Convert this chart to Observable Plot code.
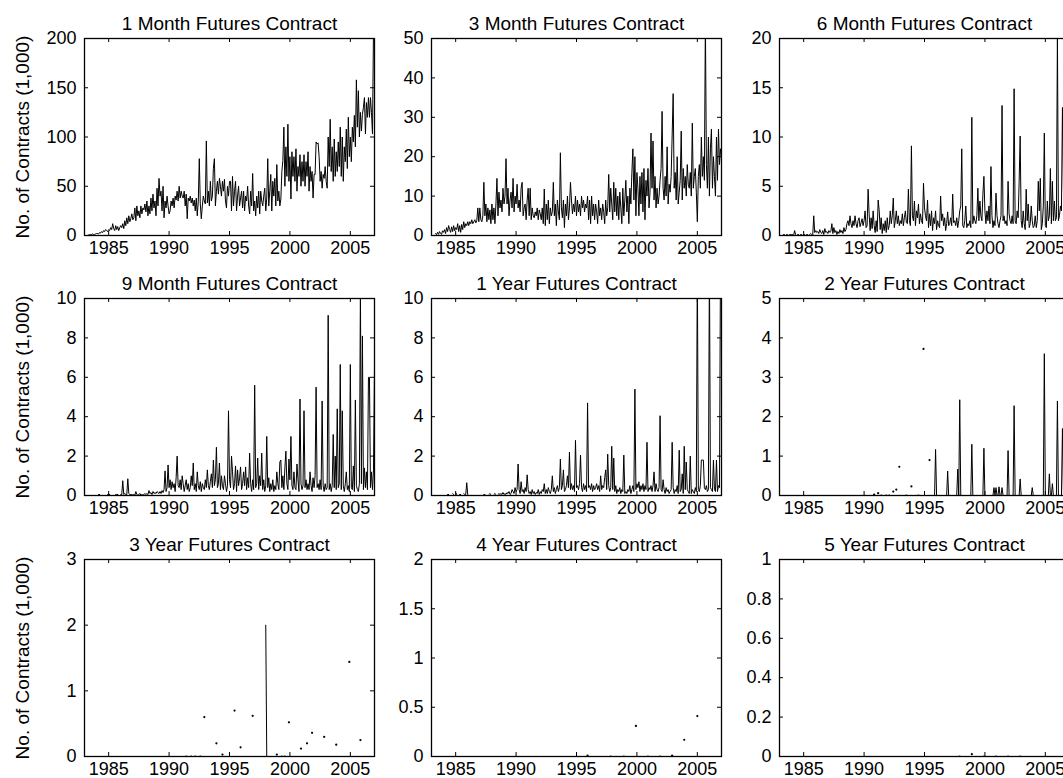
<!DOCTYPE html>
<html><head><meta charset="utf-8">
<script src="https://cdn.jsdelivr.net/npm/d3@7"></script>
<script src="https://cdn.jsdelivr.net/npm/@observablehq/plot@0.6"></script>
<style>
html,body{margin:0;padding:0;background:#fff;overflow:hidden;}
#wrap{position:relative;width:1063px;height:778px;overflow:hidden;background:#fff;}
#wrap svg{position:absolute;}
</style></head><body><div id="wrap"></div>
<script>
const n = null;
const xTicks = [1985, 1990, 1995, 2000, 2005];
const xDomain = [1983, 2007];
const yLabel = "No. of Contracts (1,000)";

const titles = ["1 Month Futures Contract","3 Month Futures Contract","6 Month Futures Contract",
  "9 Month Futures Contract","1 Year Futures Contract","2 Year Futures Contract",
  "3 Year Futures Contract","4 Year Futures Contract","5 Year Futures Contract"];
const yTicksList = [[0,50,100,150,200],[0,10,20,30,40,50],[0,5,10,15,20],
  [0,2,4,6,8,10],[0,2,4,6,8,10],[0,1,2,3,4,5],
  [0,1,2,3],[0,0.5,1,1.5,2],[0,0.2,0.4,0.6,0.8,1]];

// monthly values, Jan 1983 .. Dec 2006
const m1 = [
n,n,n,0.5,0.8,1,1,1.5,1,1.2,1.5,2,
2,1.5,3,2.5,4,3,5,4,6,5,4,6,
5,8,6,12,7,5,10,6,9,5,8,10,
8,12,7,15,10,18,12,20,14,17,22,16,
18,28,15,30,20,25,18,30,22,28,26,32,
24,35,20,30,22,38,25,42,28,35,20,48,
30,58,40,45,25,50,18,35,28,40,30,22,
25,35,30,38,28,40,36,45,35,50,38,45,
40,38,45,30,42,17,38,35,40,33,38,30,
36,25,38,20,35,78,32,17,30,40,35,32,
96,33,45,30,55,35,40,68,78,30,45,55,
42,58,50,40,55,45,57,35,28,50,40,55,
55,25,60,30,45,55,25,40,50,30,38,45,
28,45,25,40,35,50,30,22,45,30,63,25,
35,20,40,28,45,22,45,35,30,40,48,25,
38,78,30,45,62,25,55,40,58,30,72,35,
45,30,37,65,76,110,50,90,60,113,55,80,
37,85,60,80,55,88,45,70,60,82,50,75,
55,82,50,75,60,85,45,70,55,65,38,62,
62,95,93,94,80,55,65,48,62,58,70,55,
48,100,70,118,65,90,55,98,60,85,65,95,
70,110,60,100,55,90,75,108,68,120,80,100,
75,110,95,122,90,158,110,147,100,125,106,123,
130,140,103,135,120,140,120,140,125,103,210,220];

const m3 = [
n,n,n,0.5,0.2,0.8,0.3,1,0.5,0.3,1.2,0.8,
1.5,0.5,2,1,2.5,1.5,0.8,2.2,1,2.5,1.2,2,
1.5,3,1,2.5,0.8,2.8,1.5,3.5,2,3,2.5,3.5,
2.5,3.5,3,4,3,3.5,4,3.2,3.8,7,3.5,7,
4,3.5,5,13.5,5,8,3.5,7,4,6.5,3,8,
4,7,3,8,14.5,5,11,7,9,6,12,8,
10,19.5,8,12,5,9,11,7,14.5,6,10,8,
13,7,9,6,12,13.5,5,7,8,4,9,12,
5,12,4,7,5,4.5,6,5,7,4,6.5,5.5,
4,7,3,11.8,2.5,8,4,9,3,7,5,6,
13.5,5,8,2.5,9,6,4,21,7,4.5,9,2,
8,5,10,4,7,13.5,9,5.5,8,6,10,5,
9,6,8,5,10,7,9,6,8,7,10,4,
9,3,10,5,8,4,8,6,3,9,5,7,
4,8,6,3,9,5,7,15.5,6,12,8,4,
13.5,6,12,5,10,4,11,7,3,12,5,9,
14,6,10,3,12,8,16,22,9,20,5,16,
12,5,15,8,16,6,17,4,14,10,17,7,
11,26,12,24,9,15,7,12,8,10,14,17,
31.5,12,9,15,10,22.5,8,13,11,15,25.5,36,
12,16,9,20,8,11,14,26.5,9,17,12,15,
10,18,13,12,16,10,28.5,12,15,17,11,3.5,
15,18,12,25,15,20,14,55,18,12,25,10,
22,27,12,20,15,10,25,14,27,18,22,20];

const m6 = [
n,n,n,0.1,0.1,0,0.1,0.1,0,0.1,0.1,0.1,
0.1,0,0.5,0.1,0,0.1,0.1,0,0.1,0.1,0,0.1,
0.1,0,0.1,0.1,0,0.1,0.2,0.1,0,2,0.3,0.5,
0.3,0.4,0.2,0.6,0.3,0.2,0.5,0.1,0.7,0.3,0.4,0.2,
0.5,0.3,0.4,1.2,0.2,0.8,0.3,0.5,0.1,0.4,0.2,0.6,
0.3,0.5,0.2,0.8,0.4,0.6,1.2,1.5,1,2,1.2,0.8,
1.5,1,2,1.2,0.8,1.5,1.8,0.9,1.3,1.7,1,1.5,
2.5,0.8,1,4.7,2.2,0.5,1.8,0.7,2.5,1,0.3,1.5,
0.4,3.6,2.5,0.6,1.8,0.2,1.2,0.5,1.5,0.3,1.8,0.6,
1,2.5,1.2,2,3.8,0.8,1.5,2.5,1.2,2,1,1.5,
1.2,2.2,1,1.8,2.5,1.3,1.2,4.7,1.5,1,9.1,2,
1.5,3.5,1,2.5,1.8,3.2,1.2,2.2,1.5,1.2,5.3,2.8,
2,1.5,3.6,0.8,2.2,1,2.5,0.5,1.8,1.2,2.5,0.6,
1.5,1,0.8,4,1.5,2.2,1,1.8,0.5,1.2,2.4,1,
1.2,1.8,1,4.2,1.3,1.5,1,1.8,0.8,1.5,2.5,3,
8.8,1,0.8,1.5,3,0.8,1.2,1,1.5,0.8,12,1.2,
2,1.5,1.2,2,4.8,1.5,3.5,2,1.5,4.2,6,2.5,
1.2,2.5,1.5,3,1.2,7,2,0.8,1.5,1,4.3,2,
1.2,0.8,1.5,2,13.2,1.5,2,1.2,1.5,1,5.5,2.2,
1.5,1.2,2,1.2,14.9,1.5,1.2,2.5,1.8,5.5,10.1,1.5,
0.8,2.5,1.2,0.6,4.7,1.5,3.2,0.8,1.2,3,1.5,0.8,
1,2,0.8,1.5,5.5,2.5,5.8,0.6,1.2,3,10.4,1,
0.8,3.5,1.5,2,6.8,1.2,5.5,1.5,3.5,1.5,1.8,20.5,
1.5,2,3,2.5,13,4.5,1.5,5,2.5,3,2,4];

const m9 = [
n,n,n,n,n,n,n,n,n,n,n,n,
n,0.05,0.05,n,n,n,n,n,n,n,0.05,0.05,
0.05,n,n,n,n,n,0.05,0.05,0.05,n,n,0.05,
0.05,0.75,0.05,0.1,0.05,0.05,0.85,0.1,0.05,0.05,0.05,0.02,
0.05,0.02,0.2,0.05,0.02,0.05,0.1,0.02,0.05,0.02,0.05,0.1,
0.05,0.1,0.05,0.25,0.1,0.15,0.05,0.2,0.1,0.15,0.1,0.2,
0.15,0.1,0.2,0.1,0.25,0.15,0.3,1.25,0.2,0.4,1.55,0.4,
0.8,0.3,0.7,0.4,0.6,0.2,0.9,2.0,0.5,0.4,0.8,0.3,
1.0,0.6,0.2,0.5,0.8,0.3,0.6,0.2,0.4,1.0,0.5,1.65,
0.3,0.6,0.2,1.2,0.5,0.3,0.7,0.2,0.6,0.4,0.3,0.8,
0.4,1.3,0.5,0.3,0.7,1.1,0.4,1.8,0.5,0.8,2.45,0.4,
0.6,1.65,0.3,1.0,0.5,0.3,1.0,0.6,0.2,0.5,4.3,0.8,
0.4,2.0,1.2,0.3,0.6,1.5,0.2,1.3,0.5,0.9,1.45,0.3,
0.6,1.2,0.5,1.45,0.3,0.9,0.4,2.15,0.6,0.2,0.8,0.3,
5.6,0.4,0.6,1.9,0.3,1.0,0.5,2.15,0.3,0.8,0.2,0.5,
3.0,0.4,0.9,0.2,0.6,0.3,0.8,0.2,0.5,0.3,1.2,0.6,
0.3,1.7,1.8,0.4,1.0,0.3,1.4,2.25,0.6,0.3,1.85,0.8,
3.0,0.5,0.3,1.2,0.4,0.3,1.6,0.8,0.2,4.9,0.6,0.3,
0.5,4.3,0.4,0.8,0.3,0.6,0.3,1.2,0.5,0.2,0.9,0.4,
1.0,5.5,0.4,0.6,0.3,0.8,0.3,4.8,0.5,0.2,0.6,0.3,
0.4,9.15,0.3,0.6,0.2,0.5,3.1,0.4,2.0,0.3,4.4,0.4,
0.6,6.65,0.3,4.3,0.5,0.2,0.6,1.2,0.3,0.5,0.2,6.65,
0.4,0.3,1.5,0.2,4.85,0.5,0.3,0.2,0.6,10.5,0.6,8.1,
0.3,1.4,0.4,1.2,0.3,6.0,6.0,0.4,1.2,0.3,1.3,6.5];

const y1 = [
n,n,n,n,n,n,n,n,n,n,n,n,
n,n,n,0.05,0.05,n,n,n,0.1,0.05,n,0.15,
0.05,n,n,0.05,0.05,n,n,0.1,0.05,0.05,0.65,0.05,
n,n,n,n,n,n,n,n,n,n,n,n,
n,n,n,0.05,0.05,n,n,n,0.05,0.1,0.05,n,
n,0.05,0.1,0.05,n,0.05,0.1,0.05,0.1,0.05,0.15,0.05,
0.1,0.05,0.15,0.1,0.2,0.05,0.1,0.3,0.2,0.1,0.4,0.2,
0.3,1.6,0.3,0.1,0.7,0.2,0.3,0.1,0.4,0.2,1.05,0.3,
0.1,0.2,0.05,0.3,0.1,0.2,0.05,0.15,0.1,0.3,0.05,0.2,
0.1,0.3,0.2,0.6,0.1,0.3,0.1,0.4,0.2,0.1,0.3,1.0,
0.2,0.4,0.1,0.3,0.5,0.2,0.4,1.85,0.3,0.5,1.3,0.2,
0.3,0.5,1.0,0.4,2.2,0.3,0.6,0.3,0.5,0.2,2.8,0.4,
0.5,0.3,0.6,2.05,0.4,0.2,0.6,0.3,0.5,0.2,4.7,0.4,
0.5,0.3,0.6,0.2,0.5,0.3,0.4,0.6,0.3,0.5,0.2,1.0,
0.3,0.5,0.4,0.9,1.3,0.3,2.1,0.5,0.2,0.4,2.5,0.3,
1.9,0.2,0.5,0.1,0.3,0.2,0.4,0.1,0.3,0.2,2.05,0.1,
0.2,0.1,0.3,0.2,0.5,0.1,0.3,0.5,0.2,5.4,0.3,0.6,
0.4,0.7,0.2,0.5,0.3,0.6,0.2,0.5,0.3,2.7,0.2,0.4,
0.3,0.5,0.2,0.5,1.2,0.2,0.6,0.3,0.2,0.4,4.05,0.3,
0.2,0.8,0.3,0.1,0.4,0.2,0.3,0.1,0.2,0.3,2.7,0.4,
0.1,0.3,0.2,0.5,0.1,2.3,0.2,0.3,1.1,0.1,2.5,0.3,
1.7,0.3,0.2,0.1,2.0,0.1,0.3,0.2,0.1,0.4,0.2,12,
0.3,0.2,0.5,1.8,1.8,1.8,0.4,0.3,0.5,0.2,0.3,12,
0.4,0.3,0.2,1.8,0.3,0.2,1.8,0.2,0.5,0.4,12,12];

// 2 year: monthly values Jan 1990 .. Dec 2006
const y2 = [
n,n,n,n,n,n,n,n,n,0.02,n,n,
n,0.06,n,n,0,n,n,n,n,0,n,n,
0,n,n,n,0.1,n,n,0.15,n,n,0.73,n,
n,n,n,n,n,0,n,n,n,n,0.23,n,
n,n,n,n,n,0,n,n,n,n,3.72,n,
n,n,n,n,0.9,n,n,n,0,0,1.17,0,
0,0,0,0,0,0,0,0,0,0,0.62,0,
0,0,0,0,0,0,0,0,0.67,0,2.43,0,
0,0,0,0,0,0,0,0,0,0,1.3,0,
0,0,0,0,0,0,0,0,0,0,1.2,0,
0,0,0,0,0,0,0,0,0.2,0,0.2,0,
0,0.22,0,0,0.2,0,0,0,0,0,1.14,0,
0,0,0,0,2.28,0,0,0,0,0,0.42,0,
0,0,0,0,0,0,0,0,0,0,0.2,0,
0,0,0,0,0,0,0,0,0,0,3.6,0,
0,0,0,0.55,0,0,0.3,0,0,0,0,2.4,
0,0,0,0,1.7,0,0,0,0,0,0,0];

// sparse observations: [year, month, value]
const y3 = [[1991,5,0],[1991,10,0],[1992,2,0],[1992,7,0],[1992,11,0.6],[1993,11,0.2],[1994,5,0.03],
  [1995,5,0.7],[1995,11,0.14],[1996,11,0.62],[1997,12,2.0],[1998,1,0],[1998,11,0.03],[1999,4,0],
  [1999,7,0],[1999,11,0.52],[2000,11,0.12],[2001,5,0.2],[2001,10,0.36],[2002,10,0.3],[2003,10,0.18],
  [2004,11,1.44],[2005,10,0.25]];
const y4 = [[1995,11,0.01],[1997,10,0],[1998,11,0],[1999,11,0.31],[2000,11,0],[2001,11,0],
  [2002,11,0.01],[2003,11,0.17],[2004,12,0.41]];
const y5 = [[1997,11,0],[1998,11,0.012],[1999,11,0],[2000,11,0],[2001,11,0],[2002,11,0]];

function monthly(startYear, vals) {
  return vals.map((v, i) => ({x: startYear + (i + 1) / 12, y: v}));
}
function fromSparse(pts) {
  const vals = new Array(24 * 12).fill(null);
  for (const [yr, mo, v] of pts) vals[(yr - 1983) * 12 + (mo - 1)] = v;
  return monthly(1983, vals);
}
const seriesList = [monthly(1983, m1), monthly(1983, m3), monthly(1983, m6),
  monthly(1983, m9), monthly(1983, y1), monthly(1990, y2),
  fromSparse(y3), fromSparse(y4), fromSparse(y5)];

const colLeft = [84, 431, 779];
const rowTop = [38, 298, 559];
const W = 290, H = 197;
const ML = 84, MR = 14, MT = 38, MB = 36;
const font = "'Liberation Sans', Arial, Helvetica, sans-serif";
const wrap = document.getElementById("wrap");

seriesList.forEach((rows, k) => {
  const col = k % 3, row = Math.floor(k / 3);
  const yTicks = yTicksList[k];
  const yMax = yTicks[yTicks.length - 1];
  const iso = rows.filter((d, i) => d.y != null &&
    (i === 0 || rows[i - 1].y == null) && (i === rows.length - 1 || rows[i + 1].y == null));
  const marks = [
    Plot.line(rows, {x: "x", y: "y", stroke: "#000", strokeWidth: 1, clip: true}),
    Plot.dot(iso, {x: "x", y: "y", r: 1.1, fill: "#000", stroke: "none", clip: true}),
    Plot.ruleX(xTicks, {x: d => d, insetTop: H - 4, stroke: "#000"}),
    Plot.ruleX(xTicks, {x: d => d, insetBottom: H - 4, stroke: "#000"}),
    Plot.ruleY(yTicks, {y: d => d, insetRight: W - 4, stroke: "#000"}),
    Plot.ruleY(yTicks, {y: d => d, insetLeft: W - 4, stroke: "#000"}),
    Plot.frame({stroke: "#000", strokeWidth: 1.3}),
    Plot.axisX(xTicks, {tickSize: 0, tickPadding: 6, tickFormat: d => String(d), label: null, fontSize: 18}),
    Plot.axisY(yTicks, {tickSize: 0, tickPadding: 8, tickFormat: d => String(d), label: null, fontSize: 18}),
    Plot.text([titles[k]], {text: d => d, frameAnchor: "top", lineAnchor: "top", dy: -22, fontSize: 19, fill: "#000"})
  ];
  if (col === 0) {
    marks.push(Plot.text([yLabel], {text: d => d, frameAnchor: "left", textAnchor: "middle",
      rotate: -90, dx: -62, fontSize: 19, fill: "#000"}));
  }
  const svg = Plot.plot({
    width: W + ML + MR, height: H + MT + MB,
    marginLeft: ML, marginRight: MR, marginTop: MT, marginBottom: MB,
    x: {domain: xDomain},
    y: {domain: [0, yMax]},
    style: {fontFamily: font, fontSize: "18px", background: "transparent", color: "#000", overflow: "visible"},
    marks
  });
  svg.style.left = (colLeft[col] - ML) + "px";
  svg.style.top = (rowTop[row] - MT) + "px";
  svg.style.maxWidth = "none";
  wrap.appendChild(svg);
});
</script></body></html>
